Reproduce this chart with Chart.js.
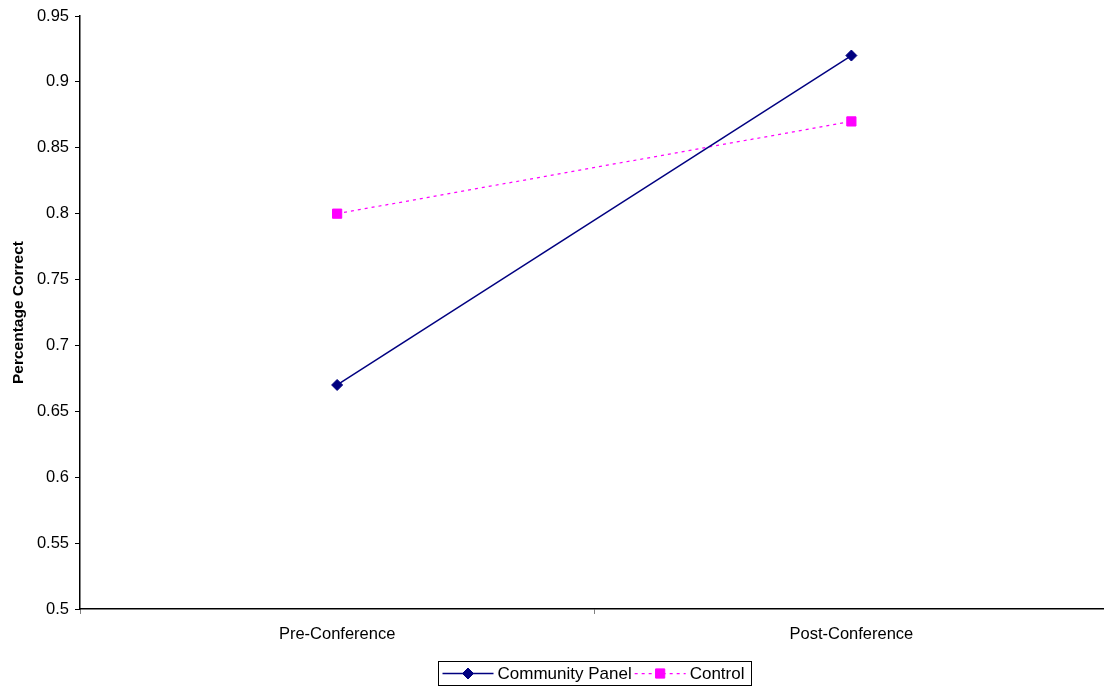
<!DOCTYPE html>
<html>
<head>
<meta charset="utf-8">
<script src="https://cdn.jsdelivr.net/npm/chart.js@4"></script>
<style>
  html, body { margin: 0; background: #fff; overflow: hidden; }
  #wrap { width: 1104px; height: 690px; overflow: hidden; }
</style>
</head>
<body>
<div id="wrap"><canvas id="scoreChart" width="1116" height="690"></canvas></div>
<script>
const categories = ["Pre-Conference", "Post-Conference"];
const communityPanel = [0.67, 0.92];
const control = [0.80, 0.87];

const FONT = "'Liberation Sans', Arial, sans-serif";

// excel-like legend with a frame, drawn under the plot
const boxedLegend = {
  id: "boxedLegend",
  afterDraw(chart) {
    const ctx = chart.ctx;
    const area = chart.chartArea;
    ctx.save();
    ctx.font = "17px " + FONT;
    const sample = 51;
    const items = chart.data.datasets.map((ds) => ({
      ds: ds,
      w: sample + 4 + ctx.measureText(ds.label).width,
    }));
    const gap = 3;
    const inner = items.reduce((s, it) => s + it.w, 0) + gap * (items.length - 1);
    const boxW = Math.round(inner + 11);
    const boxH = 24;
    const cx = (area.left + area.right) / 2;
    const left = Math.round(cx - boxW / 2) + 0.5;
    const top = 661.5;
    ctx.strokeStyle = "#000";
    ctx.lineWidth = 1;
    ctx.strokeRect(left, top, boxW, boxH);

    let x = left + 4;
    const y = top + boxH / 2;
    items.forEach((it) => {
      const ds = it.ds;
      ctx.strokeStyle = ds.borderColor;
      ctx.lineWidth = ds.borderWidth;
      ctx.setLineDash(ds.borderDash || []);
      ctx.beginPath();
      ctx.moveTo(x, y);
      ctx.lineTo(x + sample, y);
      ctx.stroke();
      ctx.setLineDash([]);
      ctx.fillStyle = ds.backgroundColor;
      ctx.strokeStyle = ds.borderColor;
      ctx.lineWidth = 1;
      Chart.helpers.drawPoint(ctx, {
        pointStyle: ds.pointStyle,
        radius: ds.pointRadius,
        borderWidth: 1,
      }, x + sample / 2, y);
      ctx.fillStyle = "#000";
      ctx.textBaseline = "middle";
      ctx.textAlign = "left";
      ctx.fillText(ds.label, x + sample + 4, y + 1);
      x += it.w + gap;
    });
    ctx.restore();
  },
};

const ctx = document.getElementById("scoreChart").getContext("2d");

new Chart(ctx, {
  type: "line",
  data: {
    labels: categories,
    datasets: [
      {
        label: "Community Panel",
        data: communityPanel,
        borderColor: "#000080",
        backgroundColor: "#000080",
        borderWidth: 1.5,
        pointStyle: "rectRot",
        pointRadius: 5.5,
        pointBorderWidth: 1,
        tension: 0,
      },
      {
        label: "Control",
        data: control,
        borderColor: "#FF00FF",
        backgroundColor: "#FF00FF",
        borderWidth: 1.25,
        borderDash: [3, 4],
        pointStyle: "rect",
        pointRadius: 6.5,
        pointBorderWidth: 1,
        tension: 0,
      },
    ],
  },
  options: {
    responsive: false,
    animation: false,
    layout: { padding: { top: 16, right: 0, bottom: 0, left: 0 } },
    plugins: {
      legend: { display: false },
      tooltip: { enabled: false },
    },
    scales: {
      x: {
        offset: true,
        grid: {
          offset: true,
          drawOnChartArea: false,
          tickLength: 5,
          color: "#808080",
        },
        border: { color: "#000", width: 1.5 },
        ticks: { color: "#000", font: { family: FONT, size: 16.5 }, padding: 11 },
        afterFit(scale) { scale.height = 81; },
      },
      y: {
        min: 0.5,
        max: 0.95,
        grid: { drawOnChartArea: false, tickLength: 5, color: "#000" },
        border: { color: "#000", width: 1.5 },
        ticks: {
          stepSize: 0.05,
          color: "#000",
          padding: 6,
          font: { family: FONT, size: 16.5 },
          callback: (v) => String(Math.round(v * 100) / 100),
        },
        title: {
          display: true,
          text: "Percentage Correct",
          color: "#000",
          font: { family: FONT, size: 15.5, weight: "bold" },
          padding: { top: 9, bottom: 0 },
        },
        afterFit(scale) { scale.width = 80; },
      },
    },
  },
  plugins: [boxedLegend],
});
</script>
</body>
</html>
